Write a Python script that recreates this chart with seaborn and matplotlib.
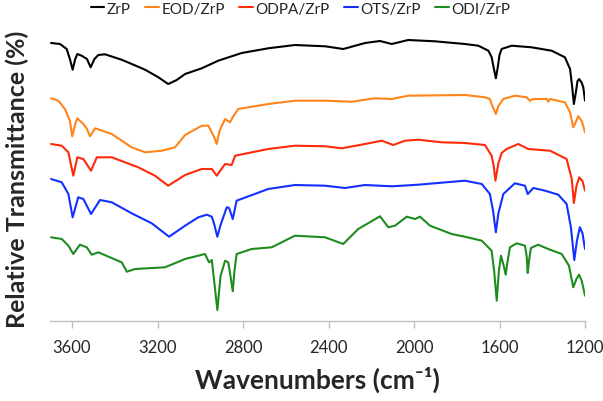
import matplotlib
matplotlib.use("Agg")
import matplotlib.pyplot as plt
import seaborn as sns
import pandas as pd

# ---------------- data ----------------
zrp_wn = [3698, 3656, 3625, 3610, 3597, 3585, 3575, 3555, 3530, 3513, 3495, 3477, 3446, 3368, 3258, 3196,
          3150, 3110, 3071, 2993, 2916, 2806, 2682, 2557, 2416, 2331, 2229, 2159, 2104, 2027, 1902, 1762,
          1699, 1652, 1637, 1627, 1617, 1608, 1600, 1590, 1543, 1450, 1356, 1294, 1270, 1260, 1252, 1244,
          1235, 1227, 1215, 1208, 1200]
zrp_t = [278, 277, 272, 262, 251.3, 262, 267, 265.3, 262, 253.7, 262, 266, 266.7, 261.3, 251.3, 243.7,
         237, 241, 247, 252.7, 260.3, 268, 272.7, 276, 274.7, 272, 278, 280, 277, 281, 279.7, 277,
         275.3, 270.3, 264, 253, 242.7, 254, 266, 272, 275.3, 273.7, 270.3, 263.7, 252, 234, 217, 227,
         240, 242, 238, 233.7, 220.3]

eod_wn = [3698, 3664, 3633, 3610, 3599, 3585, 3575, 3547, 3530, 3516, 3500, 3492, 3414, 3321, 3258, 3180,
          3118, 3071, 2993, 2962, 2950, 2935, 2923, 2910, 2884, 2861, 2845, 2822, 2682, 2557, 2416, 2292,
          2183, 2104, 2027, 1762, 1668, 1645, 1637, 1625, 1617, 1605, 1582, 1528, 1473, 1458, 1442, 1379,
          1372, 1364, 1294, 1270, 1255, 1245, 1232, 1215, 1200]
eod_t = [222.7, 220.3, 212, 200, 184.7, 197, 202.7, 197, 192, 184.7, 190, 192.7, 187, 173.7, 168.7, 170.3,
         173.7, 186, 195.3, 195.3, 190.3, 184, 177, 190, 202, 198.7, 205, 212, 217, 220.3, 220.3, 219.3,
         222.7, 222, 225.3, 226, 223.7, 222, 217, 211, 207, 215, 222, 225.3, 223.7, 220.3, 222, 222,
         219.3, 222, 218.7, 208.7, 193.7, 198, 204.7, 200, 188.7]

odpa_wn = [3698, 3648, 3617, 3594, 3575, 3547, 3511, 3484, 3414, 3290, 3212, 3150, 3071, 2993, 2946, 2923,
           2884, 2853, 2837, 2682, 2557, 2416, 2338, 2229, 2151, 2097, 2042, 1980, 1871, 1762, 1668, 1637,
           1627, 1619, 1605, 1590, 1567, 1512, 1466, 1364, 1286, 1262, 1252, 1240, 1227, 1212, 1200]
odpa_t = [177, 175.3, 168.7, 145.3, 163.7, 162, 150.3, 163.7, 163.7, 153.7, 145.3, 135.3, 146, 152, 152, 145.3,
          157, 156, 165.3, 172, 175.3, 174.7, 172.7, 177, 180.3, 176, 180.3, 181.3, 178.7, 178, 176, 165.3,
          155, 140.3, 158, 168, 172, 177, 172, 170.3, 162, 142, 118, 135, 143.7, 140, 130.3]

ots_wn = [3698, 3648, 3617, 3597, 3571, 3547, 3511, 3469, 3414, 3321, 3227, 3146, 3071, 3009, 2970, 2946,
          2935, 2920, 2905, 2876, 2865, 2848, 2830, 2682, 2557, 2416, 2323, 2229, 2104, 1980, 1762, 1683,
          1645, 1630, 1617, 1605, 1582, 1528, 1481, 1468, 1442, 1387, 1325, 1286, 1266, 1250, 1238, 1224,
          1212, 1200]
ots_t = [142, 138.7, 127, 103.7, 123.7, 122, 107, 121, 118.7, 107.7, 97.7, 84.3, 95.3, 103.7, 106.3, 104.3,
         97, 84.3, 96, 113.7, 113, 102, 120.3, 132, 136, 135.3, 133, 136, 134.7, 136.3, 140.3, 137,
         127, 110, 88.7, 108, 127, 137.7, 135.3, 127, 133, 130.3, 126.3, 117, 93.7, 61, 80, 93.7,
         88, 72]

odi_wn = [3698, 3648, 3617, 3594, 3563, 3531, 3508, 3477, 3368, 3350, 3344, 3305, 3165, 3071, 2978, 2959,
          2946, 2935, 2920, 2905, 2884, 2869, 2855, 2848, 2840, 2830, 2759, 2666, 2557, 2416, 2331, 2261,
          2159, 2120, 2089, 2034, 1995, 1972, 1925, 1824, 1762, 1683, 1637, 1625, 1613, 1603, 1593, 1580,
          1571, 1562, 1551, 1520, 1481, 1473, 1468, 1462, 1453, 1419, 1372, 1309, 1275, 1255, 1240, 1228,
          1215, 1200]
odi_t = [83.7, 82, 75.3, 67, 76.3, 73.7, 66.3, 68.7, 58.7, 52, 49.3, 52, 53.7, 62, 67, 58.7,
         61, 40, 11, 45, 60.3, 58.7, 40, 29.7, 50, 67, 72, 73.7, 85.3, 83.7, 77, 92,
         104.7, 93.7, 95.3, 104.3, 102, 104.3, 95.3, 87, 84.3, 80.3, 70.3, 50, 20.3, 50, 65.3, 55,
         46.3, 60, 73.7, 77.7, 75.3, 65, 48, 60, 73, 76.3, 72, 67, 55.3, 33.7, 42, 46.3,
         40, 25.3]

series_names = ["ZrP", "EOD/ZrP", "ODPA/ZrP", "OTS/ZrP", "ODI/ZrP"]
series_wn = [zrp_wn, eod_wn, odpa_wn, ots_wn, odi_wn]
series_t = [zrp_t, eod_t, odpa_t, ots_t, odi_t]
colors = ["#000000", "#FF8419", "#FF2A0A", "#1430FF", "#1E8C1E"]

x_ticks = [3600, 3200, 2800, 2400, 2000, 1600, 1200]

# ---------------- build table ----------------
frames = []
for name, wn, t in zip(series_names, series_wn, series_t):
    frames.append(pd.DataFrame({"wn": wn, "T": t, "sample": name}))
df = pd.concat(frames, ignore_index=True)

# ---------------- plot ----------------
sns.set_theme(style="white")
plt.rcParams["font.family"] = ["Lato", "DejaVu Sans"]

fig = plt.figure(figsize=(6.03, 4.02), dpi=100)
ax = fig.add_axes([50 / 603, 80 / 402, 535 / 603, 292 / 402])

sns.lineplot(data=df, x="wn", y="T", hue="sample", palette=colors,
             hue_order=series_names, estimator=None, sort=False,
             linewidth=1.5, ax=ax, legend=True)

ax.set_xlim(3703, 1200)
ax.set_ylim(0, 292)
ax.set_xticks(x_ticks)
ax.set_xticklabels([str(v) for v in x_ticks], fontsize=12)
ax.set_yticks([])
for s in ["top", "right", "left"]:
    ax.spines[s].set_visible(False)
ax.spines["bottom"].set_color("#BFBFBF")
ax.spines["bottom"].set_linewidth(1.0)
ax.tick_params(axis="x", direction="out", length=5, width=1, color="#BFBFBF",
               pad=8, bottom=True)

ax.set_xlabel("Wavenumbers (cm\u207B\u00B9)", fontsize=19, fontweight="bold", labelpad=8)
ax.set_ylabel("Relative Transmittance (%)", fontsize=18, fontweight="bold")
ax.yaxis.set_label_coords(-0.040, 0.49)

leg = ax.legend(loc="upper center", bbox_to_anchor=(0.468, 1.115), ncol=5, frameon=False,
                fontsize=11, handlelength=0.9, handletextpad=0.15, columnspacing=0.95,
                borderaxespad=0)
for line in leg.get_lines():
    line.set_linewidth(1.5)

fig.savefig("out.png", dpi=100)
